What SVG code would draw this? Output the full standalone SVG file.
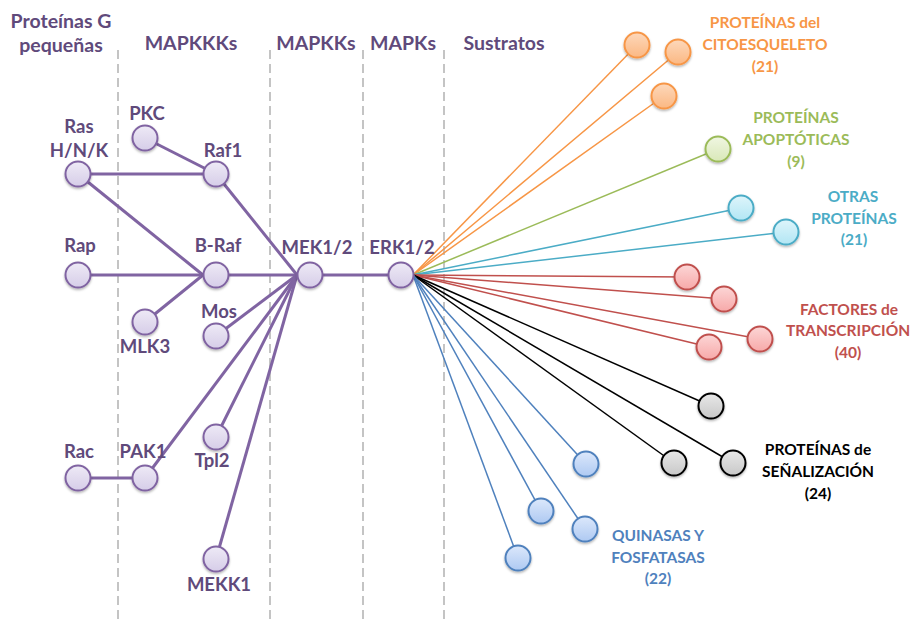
<svg xmlns="http://www.w3.org/2000/svg" width="912" height="620" viewBox="0 0 912 620">
<defs>
<linearGradient id="gP" x1="0" y1="0" x2="0" y2="1"><stop offset="0" stop-color="#eeeaf6"/><stop offset="1" stop-color="#d6cde8"/></linearGradient>
<linearGradient id="gO" x1="0" y1="0" x2="0" y2="1"><stop offset="0" stop-color="#fdd8bb"/><stop offset="1" stop-color="#fbb883"/></linearGradient>
<linearGradient id="gG" x1="0" y1="0" x2="0" y2="1"><stop offset="0" stop-color="#f0f6e2"/><stop offset="1" stop-color="#d9e8b8"/></linearGradient>
<linearGradient id="gC" x1="0" y1="0" x2="0" y2="1"><stop offset="0" stop-color="#def5fb"/><stop offset="1" stop-color="#b2e6f4"/></linearGradient>
<linearGradient id="gR" x1="0" y1="0" x2="0" y2="1"><stop offset="0" stop-color="#fcd6d6"/><stop offset="1" stop-color="#f7a9a9"/></linearGradient>
<linearGradient id="gK" x1="0" y1="0" x2="0" y2="1"><stop offset="0" stop-color="#e8e8e8"/><stop offset="1" stop-color="#c8c8c8"/></linearGradient>
<linearGradient id="gB" x1="0" y1="0" x2="0" y2="1"><stop offset="0" stop-color="#dce8fb"/><stop offset="1" stop-color="#aec9f2"/></linearGradient>
<filter id="sh" x="-30%" y="-30%" width="160%" height="170%"><feDropShadow dx="0" dy="1.5" stdDeviation="1.2" flood-color="#000" flood-opacity="0.3"/></filter>
<style>
text{font-family:Lato,"Open Sans","Liberation Sans",sans-serif;font-weight:bold;text-anchor:middle}
.h{font-size:19.5px;fill:#604a7b}
.l{font-size:18.5px;fill:#604a7b}
.c{font-size:15.5px}
.dash{stroke:#c4c4c4;stroke-width:2;stroke-dasharray:9,5;fill:none}
.pl{stroke:#8064a2;stroke-width:3;fill:none}
.sl{stroke-width:1.5;fill:none}
.n{filter:url(#sh);stroke-width:2}
.np{fill:url(#gP);stroke:#8064a2}
.no{fill:url(#gO);stroke:#f79646}
.ng{fill:url(#gG);stroke:#9bbb59}
.nc{fill:url(#gC);stroke:#4bacc6}
.nr{fill:url(#gR);stroke:#c0504d}
.nk{fill:url(#gK);stroke:#000}
.nb{fill:url(#gB);stroke:#4f81bd}
</style>
</defs>
<rect width="912" height="620" fill="#fff"/>
<g id="dividers">
<line class="dash" x1="118" y1="50" x2="118" y2="620"/>
<line class="dash" x1="270" y1="50" x2="270" y2="620"/>
<line class="dash" x1="363" y1="50" x2="363" y2="620"/>
<line class="dash" x1="444" y1="50" x2="444" y2="620"/>
</g>
<g id="headers">
<text class="h" x="61" y="28">Proteínas G</text>
<text class="h" x="61" y="52">pequeñas</text>
<text class="h" x="191" y="50">MAPKKKs</text>
<text class="h" x="316" y="50">MAPKKs</text>
<text class="h" x="403" y="50">MAPKs</text>
<text class="h" x="504" y="50">Sustratos</text>
</g>
<g id="connectors">
<line class="pl" x1="78" y1="174" x2="216" y2="174"/>
<line class="pl" x1="145" y1="138" x2="216" y2="174"/>
<line class="pl" x1="78" y1="174" x2="203" y2="275"/>
<line class="pl" x1="78" y1="275" x2="401" y2="275"/>
<line class="pl" x1="145" y1="322" x2="203" y2="275"/>
<line class="pl" x1="216" y1="174" x2="297" y2="275"/>
<line class="pl" x1="216" y1="336" x2="297" y2="275"/>
<line class="pl" x1="145" y1="478" x2="297" y2="275"/>
<line class="pl" x1="216" y1="437" x2="297" y2="275"/>
<line class="pl" x1="216" y1="559" x2="297" y2="275"/>
<line class="pl" x1="78" y1="478" x2="145" y2="478"/>
<g stroke="#f79646" class="sl">
<line x1="413" y1="275" x2="637" y2="45"/>
<line x1="413" y1="275" x2="678" y2="52"/>
<line x1="413" y1="275" x2="664" y2="96"/>
</g>
<g stroke="#9bbb59" class="sl"><line x1="413" y1="275" x2="718" y2="149"/></g>
<g stroke="#4bacc6" class="sl">
<line x1="413" y1="275" x2="741" y2="208"/>
<line x1="413" y1="275" x2="786" y2="232"/>
</g>
<g stroke="#c0504d" class="sl">
<line x1="413" y1="275" x2="687" y2="277"/>
<line x1="413" y1="275" x2="724" y2="299"/>
<line x1="413" y1="275" x2="760" y2="339"/>
<line x1="413" y1="275" x2="709" y2="347"/>
</g>
<g stroke="#000" class="sl">
<line x1="413" y1="275" x2="711" y2="406"/>
<line x1="413" y1="275" x2="674" y2="463"/>
<line x1="413" y1="275" x2="733" y2="463"/>
</g>
<g stroke="#4f81bd" class="sl">
<line x1="413" y1="275" x2="586" y2="464"/>
<line x1="413" y1="275" x2="541" y2="511"/>
<line x1="413" y1="275" x2="585" y2="529"/>
<line x1="413" y1="275" x2="518" y2="558"/>
</g>
</g>
<g id="node-ras"><circle class="n np" cx="78" cy="174" r="12.5"/><text class="l" x="79" y="133">Ras</text><text class="l" x="79" y="157">H/N/K</text></g>
<g id="node-pkc"><circle class="n np" cx="145" cy="138" r="12.5"/><text class="l" x="147" y="120">PKC</text></g>
<g id="node-raf1"><circle class="n np" cx="216" cy="174" r="12.5"/><text class="l" x="223" y="157">Raf1</text></g>
<g id="node-rap"><circle class="n np" cx="78" cy="275" r="12.5"/><text class="l" x="80" y="252">Rap</text></g>
<g id="node-braf"><circle class="n np" cx="216" cy="275" r="12.5"/><text class="l" x="218" y="252">B-Raf</text></g>
<g id="node-mlk3"><circle class="n np" cx="145" cy="322" r="12.5"/><text class="l" x="145" y="353">MLK3</text></g>
<g id="node-mos"><circle class="n np" cx="216" cy="336" r="12.5"/><text class="l" x="219" y="318">Mos</text></g>
<g id="node-rac"><circle class="n np" cx="78" cy="478" r="12.5"/><text class="l" x="79" y="458">Rac</text></g>
<g id="node-pak1"><circle class="n np" cx="145" cy="478" r="12.5"/><text class="l" x="143" y="458">PAK1</text></g>
<g id="node-tpl2"><circle class="n np" cx="216" cy="437" r="12.5"/><text class="l" x="212" y="467">Tpl2</text></g>
<g id="node-mekk1"><circle class="n np" cx="216" cy="559" r="12.5"/><text class="l" x="219" y="591">MEKK1</text></g>
<g id="node-mek12"><circle class="n np" cx="310" cy="275" r="12.5"/><text class="l" x="317" y="254">MEK1/2</text></g>
<g id="node-erk12"><circle class="n np" cx="401" cy="275" r="12.5"/><text class="l" x="402" y="254">ERK1/2</text></g>
<g id="group-cito">
<circle class="n no" cx="637" cy="45" r="12.5"/><circle class="n no" cx="678" cy="52" r="12.5"/><circle class="n no" cx="664" cy="96" r="12.5"/>
<g class="c" fill="#f79646"><text x="765" y="28">PROTEÍNAS del</text><text x="765" y="50">CITOESQUELETO</text><text x="765" y="72">(21)</text></g>
</g>
<g id="group-apop">
<circle class="n ng" cx="718" cy="149" r="12.5"/>
<g class="c" fill="#9bbb59"><text x="796" y="123">PROTEÍNAS</text><text x="796" y="145">APOPTÓTICAS</text><text x="796" y="167">(9)</text></g>
</g>
<g id="group-otras">
<circle class="n nc" cx="741" cy="208" r="12.5"/><circle class="n nc" cx="786" cy="232" r="12.5"/>
<g class="c" fill="#4bacc6"><text x="853" y="202">OTRAS</text><text x="854" y="224">PROTEÍNAS</text><text x="854" y="245">(21)</text></g>
</g>
<g id="group-factores">
<circle class="n nr" cx="687" cy="277" r="12.5"/><circle class="n nr" cx="724" cy="299" r="12.5"/><circle class="n nr" cx="760" cy="339" r="12.5"/><circle class="n nr" cx="709" cy="347" r="12.5"/>
<g class="c" fill="#c0504d"><text x="849" y="315">FACTORES de</text><text x="848" y="336">TRANSCRIPCIÓN</text><text x="848" y="358">(40)</text></g>
</g>
<g id="group-senal">
<circle class="n nk" cx="711" cy="406" r="12.5"/><circle class="n nk" cx="674" cy="463" r="12.5"/><circle class="n nk" cx="733" cy="463" r="12.5"/>
<g class="c" fill="#000"><text x="818" y="455">PROTEÍNAS de</text><text x="818" y="477">SEÑALIZACIÓN</text><text x="818" y="499">(24)</text></g>
</g>
<g id="group-quinasas">
<circle class="n nb" cx="586" cy="464" r="12.5"/><circle class="n nb" cx="541" cy="511" r="12.5"/><circle class="n nb" cx="585" cy="529" r="12.5"/><circle class="n nb" cx="518" cy="558" r="12.5"/>
<g class="c" fill="#4f81bd"><text x="658" y="541">QUINASAS Y</text><text x="658" y="563">FOSFATASAS</text><text x="658" y="584">(22)</text></g>
</g>
</svg>
